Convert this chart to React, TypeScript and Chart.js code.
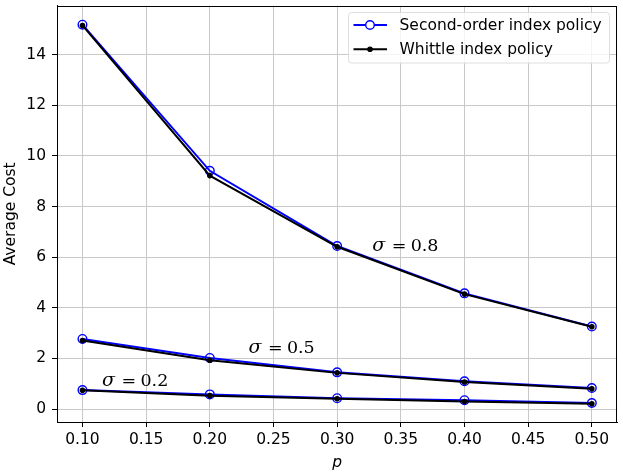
import React, { useEffect, useRef } from 'react';
import { Chart, registerables } from 'chart.js';

Chart.register(...registerables);

// data
const pValues = [0.1, 0.2, 0.3, 0.4, 0.5];
const xTicks = [0.1, 0.15, 0.2, 0.25, 0.3, 0.35, 0.4, 0.45, 0.5];
const yTicks = [0, 2, 4, 6, 8, 10, 12, 14];

const secondOrder08 = [15.18, 9.41, 6.44, 4.57, 3.26];
const whittle08 = [15.15, 9.22, 6.41, 4.54, 3.25];
const secondOrder05 = [2.77, 2.02, 1.45, 1.10, 0.83];
const whittle05 = [2.71, 1.93, 1.43, 1.07, 0.80];
const secondOrder02 = [0.75, 0.58, 0.43, 0.35, 0.24];
const whittle02 = [0.74, 0.53, 0.41, 0.30, 0.21];

const sigmaLabels = ['0.8', '0.5', '0.2'];
const sigmaLabelAt = [
  { p: 0.3279, v: 6.24 },
  { p: 0.2307, v: 2.22 },
  { p: 0.1157, v: 0.92 },
];

const legendLabels = ['Second-order index policy', 'Whittle index policy'];

const SANS = '"DejaVu Sans", sans-serif';
const SERIF = '"DejaVu Serif", "Liberation Serif", serif';
const FS = 15.5;

const toPoints = (vals: number[]) => pValues.map((p, i) => ({ x: p, y: vals[i] }));

const blueSet = (vals: number[]) => ({
  label: legendLabels[0],
  data: toPoints(vals),
  borderColor: '#0000ff',
  borderWidth: 2,
  pointRadius: 4.3,
  pointBorderWidth: 1.4,
  pointBorderColor: '#0000ff',
  pointBackgroundColor: 'rgba(0,0,0,0)',
  order: 2,
});

const blackSet = (vals: number[]) => ({
  label: legendLabels[1],
  data: toPoints(vals),
  borderColor: '#000000',
  borderWidth: 2,
  pointRadius: 2.8,
  pointBorderWidth: 0,
  pointBackgroundColor: '#000000',
  order: 1,
});

const framePlugin = {
  id: 'frame',
  afterDatasetsDraw(chart: any) {
    const { ctx, chartArea, scales } = chart;
    ctx.save();
    // sigma annotations
    const fs = 17.5;
    sigmaLabels.forEach((lab, i) => {
      const x = scales.x.getPixelForValue(sigmaLabelAt[i].p);
      const y = scales.y.getPixelForValue(sigmaLabelAt[i].v);
      ctx.fillStyle = '#000';
      ctx.textBaseline = 'alphabetic';
      ctx.textAlign = 'left';
      ctx.font = `italic ${fs + 1.5}px ${SERIF}`;
      ctx.fillText('σ', x - 0.5, y);
      ctx.font = `${fs}px ${SERIF}`;
      ctx.fillText('=', x + 19, y);
      ctx.fillText(lab, x + 38, y);
    });

    // spines
    ctx.strokeStyle = '#000';
    ctx.lineWidth = 1;
    ctx.strokeRect(
      Math.round(chartArea.left) + 0.5,
      Math.round(chartArea.top) + 0.5,
      Math.round(chartArea.right - chartArea.left) - 1,
      Math.round(chartArea.bottom - chartArea.top)
    );

    // legend
    const bx = 348.5, by = 12.5, bw = 261, bh = 50.5;
    ctx.beginPath();
    ctx.roundRect(bx, by, bw, bh, 3);
    ctx.fillStyle = 'rgba(255,255,255,0.8)';
    ctx.fill();
    ctx.strokeStyle = '#dedede';
    ctx.lineWidth = 1;
    ctx.stroke();

    const rows = [25, 49.3];
    rows.forEach((ry, i) => {
      const color = i === 0 ? '#0000ff' : '#000000';
      ctx.beginPath();
      ctx.moveTo(353.5, ry);
      ctx.lineTo(387, ry);
      ctx.strokeStyle = color;
      ctx.lineWidth = 2;
      ctx.stroke();
      ctx.beginPath();
      if (i === 0) {
        ctx.arc(370, ry, 4.3, 0, Math.PI * 2);
        ctx.fillStyle = '#ffffff';
        ctx.fill();
        ctx.lineWidth = 1.4;
        ctx.stroke();
      } else {
        ctx.arc(370, ry, 2.8, 0, Math.PI * 2);
        ctx.fillStyle = '#000';
        ctx.fill();
      }
      ctx.fillStyle = '#000';
      ctx.font = `${FS}px ${SANS}`;
      ctx.textBaseline = 'middle';
      ctx.textAlign = 'left';
      ctx.fillText(legendLabels[i], 399.5, ry + 0.5);
    });
    ctx.restore();
  },
};

const App: React.FC = () => {
  const chartRef = useRef<HTMLCanvasElement | null>(null);

  useEffect(() => {
    if (!chartRef.current) return;
    const ctx = chartRef.current.getContext('2d');
    if (!ctx) return;
    const chart = new Chart(ctx, {
      type: 'line',
      data: {
        datasets: [
          blueSet(secondOrder08),
          blueSet(secondOrder05),
          blueSet(secondOrder02),
          blackSet(whittle08),
          blackSet(whittle05),
          blackSet(whittle02),
        ],
      },
      options: {
        responsive: false,
        animation: false,
        layout: { padding: { top: 5, right: 5, left: 0, bottom: 0 } },
        plugins: {
          legend: { display: false },
          tooltip: { enabled: false },
        },
        scales: {
          x: {
            type: 'linear',
            min: 0.08,
            max: 0.52,
            afterBuildTicks: (scale: any) => {
              scale.ticks = xTicks.map((v) => ({ value: v }));
            },
            afterFit: (scale: any) => {
              scale.height = 51;
              scale.paddingLeft = 0;
              scale.paddingRight = 0;
            },
            ticks: {
              autoSkip: false,
              maxRotation: 0,
              padding: 4,
              color: '#000',
              font: { family: SANS, size: FS },
              callback: (v: any) => Number(v).toFixed(2),
            },
            grid: {
              color: '#c8c8c8',
              lineWidth: 1,
              tickColor: '#000',
              tickLength: 5,
              tickWidth: 1,
            },
            border: { display: true, color: '#000', width: 1 },
            title: {
              display: true,
              text: 'p',
              color: '#000',
              font: { family: SANS, size: FS, style: 'italic' },
              padding: { top: 0, bottom: 1 },
            },
          },
          y: {
            type: 'linear',
            min: -0.51,
            max: 15.93,
            afterBuildTicks: (scale: any) => {
              scale.ticks = yTicks.map((v) => ({ value: v }));
            },
            afterFit: (scale: any) => {
              scale.width = 57;
              scale.paddingTop = 0;
              scale.paddingBottom = 0;
            },
            ticks: {
              padding: 6,
              color: '#000',
              font: { family: SANS, size: FS },
              callback: (v: any) => String(v),
            },
            grid: {
              color: '#c8c8c8',
              lineWidth: 1,
              tickColor: '#000',
              tickLength: 5,
              tickWidth: 1,
            },
            border: { display: true, color: '#000', width: 1 },
            title: {
              display: true,
              text: 'Average Cost',
              color: '#000',
              font: { family: SANS, size: FS },
              padding: { top: 2, bottom: 0 },
            },
          },
        },
      },
      plugins: [framePlugin],
    });

    return () => {
      chart.destroy();
    };
  }, []);

  return (
    <div style={{ position: 'absolute', left: 0, top: 0, width: 623, height: 473, background: '#fff' }}>
      <canvas ref={chartRef} width={623} height={473}></canvas>
    </div>
  );
};

export default App;
